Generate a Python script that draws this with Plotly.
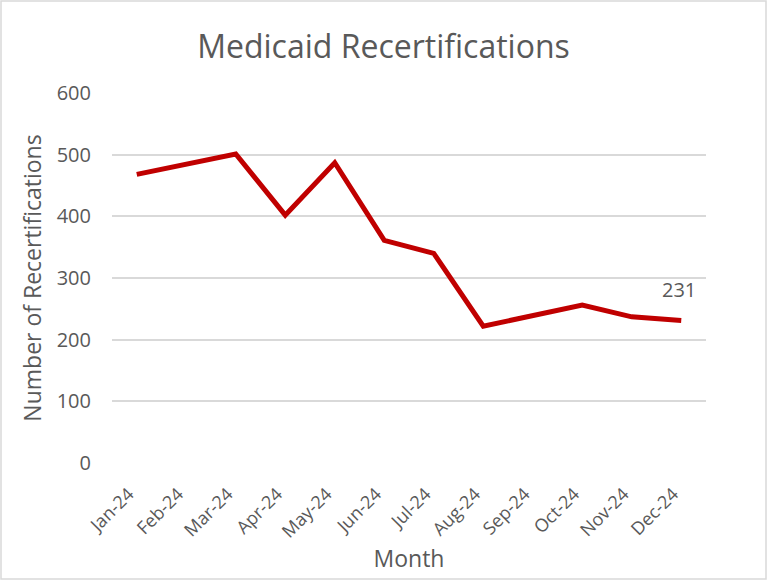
import plotly.graph_objects as go

months = ["Jan-24", "Feb-24", "Mar-24", "Apr-24", "May-24", "Jun-24",
          "Jul-24", "Aug-24", "Sep-24", "Oct-24", "Nov-24", "Dec-24"]
recerts = [468, 485, 501, 402, 487, 361, 340, 222, 239, 256, 237, 231]
y_ticks = [0, 100, 200, 300, 400, 500, 600]

FONT = "Open Sans, Liberation Sans, sans-serif"
GRAY = "#595959"

fig = go.Figure()
fig.add_trace(go.Scatter(
    x=list(range(len(months))), y=recerts, mode="lines",
    line=dict(color="#C00000", width=5), hoverinfo="skip", showlegend=False,
))

# value label on the last month
fig.add_annotation(
    x=len(months) - 1, y=recerts[-1], text=str(recerts[-1]),
    showarrow=False, yshift=31, xshift=-2,
    font=dict(family=FONT, size=20, color=GRAY),
)

fig.update_layout(
    width=767, height=580,
    margin=dict(l=112, r=61, t=93, b=117),
    paper_bgcolor="white", plot_bgcolor="white",
    title=dict(text="Medicaid Recertifications", x=0.5, xanchor="center",
               y=1 - 47 / 580, yanchor="middle",
               font=dict(family=FONT, size=32, color=GRAY)),
    xaxis=dict(
        tickmode="array", tickvals=list(range(len(months))), ticktext=months,
        range=[-0.5, len(months) - 0.5], tickangle=-45,
        showgrid=False, zeroline=False, showline=False, ticks="",
        tickfont=dict(family=FONT, size=18, color=GRAY),
        ticklabelstandoff=16, ticklabelshift=-8,
        title=dict(text="Month", font=dict(family=FONT, size=23, color=GRAY),
                   standoff=9),
    ),
    yaxis=dict(
        range=[0, 600], tickvals=y_ticks, showgrid=True, gridcolor="#D9D9D9",
        gridwidth=1.5, zeroline=False, showline=False, ticks="",
        tickfont=dict(family=FONT, size=20, color=GRAY), ticklabelstandoff=20,
        title=dict(text="Number of Recertifications",
                   font=dict(family=FONT, size=23, color=GRAY), standoff=8),
    ),
)

# outer chart border
fig.add_shape(type="rect", xref="paper", yref="paper",
              x0=-111 / 594, x1=(766 - 112) / 594,
              y0=-116 / 370, y1=(463 - 1) / 370,
              line=dict(color="#D9D9D9", width=1.5), fillcolor="rgba(0,0,0,0)")

fig.write_html("out.html")
